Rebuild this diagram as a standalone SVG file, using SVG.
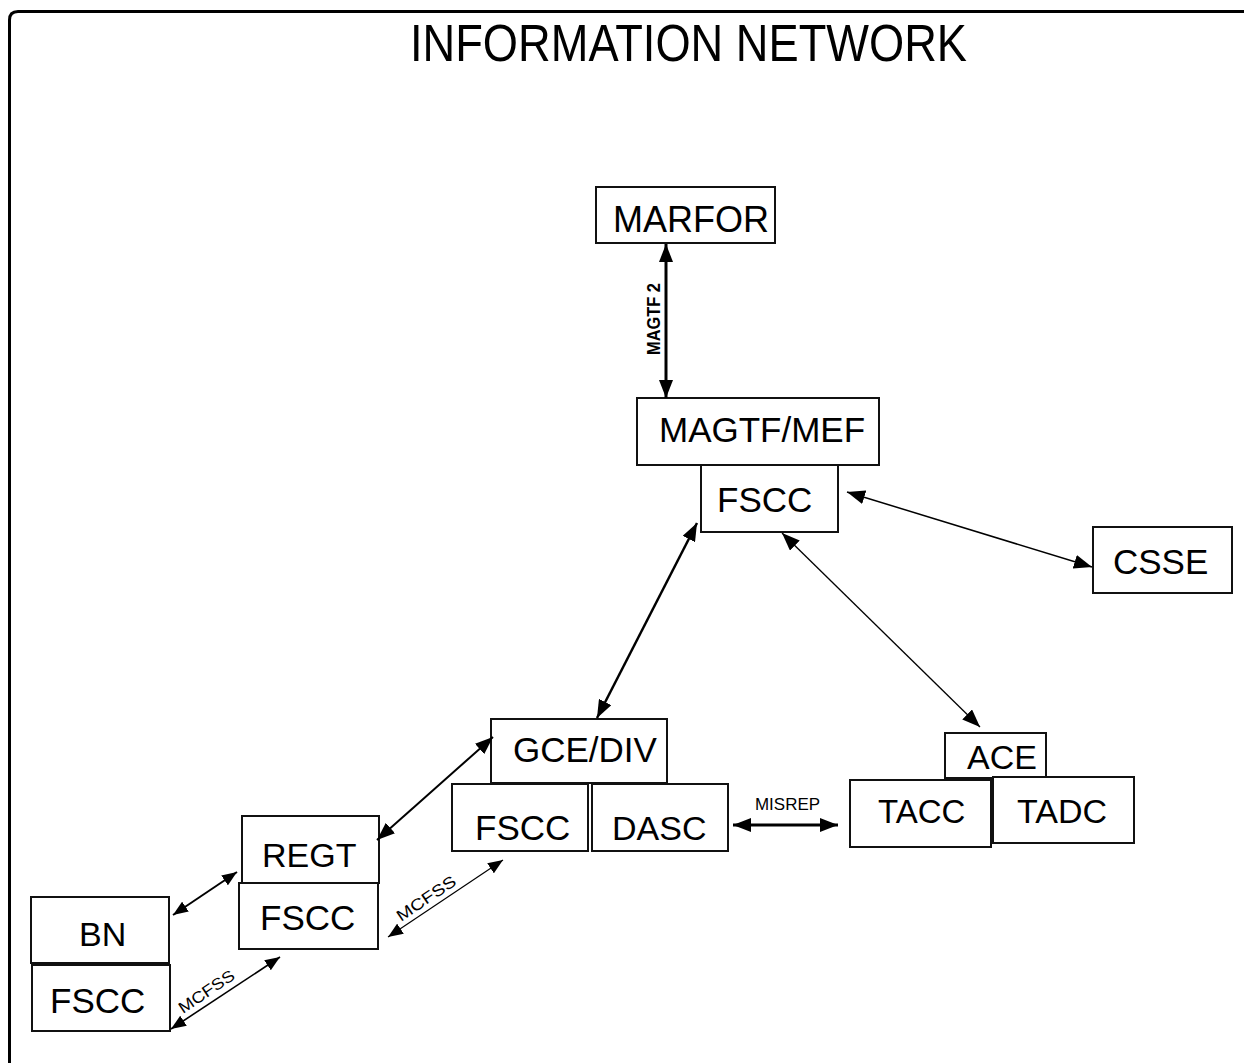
<svg xmlns="http://www.w3.org/2000/svg" width="1244" height="1063" viewBox="0 0 1244 1063">
<style>
.box{fill:#fff;stroke:#111;stroke-width:2}
.lbl{font-family:"Liberation Sans",Arial,sans-serif;fill:#000}
.ln{stroke:#000;fill:none}
.sm{font-family:"Liberation Sans",Arial,sans-serif;fill:#000}
</style>
<defs>
<marker id="ah" markerUnits="userSpaceOnUse" markerWidth="18" markerHeight="14" refX="18" refY="7" orient="auto-start-reverse" viewBox="0 0 18 14">
<path d="M0,0 L18,7 L0,14 z" fill="#000"/>
</marker>
<marker id="ahs" markerUnits="userSpaceOnUse" markerWidth="15" markerHeight="12" refX="15" refY="6" orient="auto-start-reverse" viewBox="0 0 15 12">
<path d="M0,0 L15,6 L0,12 z" fill="#000"/>
</marker>
</defs>
<rect width="1244" height="1063" fill="#fff"/>
<path d="M9.5,1063 V20 Q9.5,11.5 18,11.5 H1250" fill="none" stroke="#000" stroke-width="3"/>
<text class="lbl" x="410" y="61" font-size="51" textLength="557" lengthAdjust="spacingAndGlyphs">INFORMATION NETWORK</text>

<g id="marfor"><rect class="box" x="596" y="187" width="179" height="56" stroke-width="2.5"/><text class="lbl" x="613" y="232" font-size="36">MARFOR</text></g>
<g id="magtf-mef"><rect class="box" x="637" y="398" width="242" height="67"/><text class="lbl" x="659" y="442" font-size="35">MAGTF/MEF</text></g>
<g id="fscc-mef"><rect class="box" x="701" y="465" width="137" height="67"/><text class="lbl" x="717" y="512" font-size="35">FSCC</text></g>
<g id="csse"><rect class="box" x="1093" y="527" width="139" height="66"/><text class="lbl" x="1113" y="574" font-size="35">CSSE</text></g>
<g id="ace"><rect class="box" x="945" y="733" width="101" height="45"/><text class="lbl" x="967" y="769" font-size="34">ACE</text></g>
<g id="tacc"><rect class="box" x="850" y="780" width="141" height="67"/><text class="lbl" x="878" y="823" font-size="33">TACC</text></g>
<g id="tadc"><rect class="box" x="993" y="777" width="141" height="66"/><text class="lbl" x="1017" y="823" font-size="34">TADC</text></g>
<g id="gce-div"><rect class="box" x="491" y="719" width="176" height="64"/><text class="lbl" x="513" y="762" font-size="35">GCE/DIV</text></g>
<g id="fscc-gce"><rect class="box" x="452" y="784" width="136" height="67"/><text class="lbl" x="475" y="840" font-size="35">FSCC</text></g>
<g id="dasc"><rect class="box" x="592" y="784" width="136" height="67"/><text class="lbl" x="612" y="840" font-size="34">DASC</text></g>
<g id="regt"><rect class="box" x="242" y="816" width="137" height="67"/><text class="lbl" x="262" y="867" font-size="34">REGT</text></g>
<g id="fscc-regt"><rect class="box" x="239" y="883" width="139" height="66"/><text class="lbl" x="260" y="930" font-size="35">FSCC</text></g>
<g id="bn"><rect class="box" x="31" y="897" width="138" height="66"/><text class="lbl" x="79" y="946" font-size="34">BN</text></g>
<g id="fscc-bn"><rect class="box" x="32" y="965" width="138" height="66"/><text class="lbl" x="50" y="1013" font-size="35">FSCC</text></g>

<g id="connectors">
<line class="ln" x1="666" y1="244" x2="666" y2="398" stroke-width="3" marker-start="url(#ah)" marker-end="url(#ah)"/>
<text class="sm" transform="translate(660,355) rotate(-90)" font-size="18" font-weight="bold" textLength="72" lengthAdjust="spacingAndGlyphs">MAGTF 2</text>
<line class="ln" x1="847" y1="492" x2="1092" y2="567" stroke-width="1.5" marker-start="url(#ah)" marker-end="url(#ah)"/>
<line class="ln" x1="782" y1="533" x2="980" y2="727" stroke-width="1.3" marker-start="url(#ah)" marker-end="url(#ah)"/>
<line class="ln" x1="597" y1="718" x2="697" y2="523" stroke-width="2.5" marker-start="url(#ah)" marker-end="url(#ah)"/>
<line class="ln" x1="733" y1="825" x2="838" y2="825" stroke-width="3" marker-start="url(#ah)" marker-end="url(#ah)"/>
<text class="sm" x="755" y="810" font-size="17" textLength="65" lengthAdjust="spacingAndGlyphs">MISREP</text>
<line class="ln" x1="377" y1="840" x2="493" y2="737" stroke-width="2" marker-start="url(#ah)" marker-end="url(#ah)"/>
<line class="ln" x1="388" y1="937" x2="503" y2="860" stroke-width="1.2" marker-start="url(#ahs)" marker-end="url(#ahs)"/>
<text class="sm" transform="translate(401,922) rotate(-34)" font-size="16" textLength="68" lengthAdjust="spacingAndGlyphs">MCFSS</text>
<line class="ln" x1="173" y1="915" x2="237" y2="872" stroke-width="2" marker-start="url(#ahs)" marker-end="url(#ahs)"/>
<line class="ln" x1="171" y1="1029" x2="280" y2="957" stroke-width="1.6" marker-start="url(#ahs)" marker-end="url(#ahs)"/>
<text class="sm" transform="translate(183,1014) rotate(-34)" font-size="16" textLength="64" lengthAdjust="spacingAndGlyphs">MCFSS</text>
</g>
</svg>
